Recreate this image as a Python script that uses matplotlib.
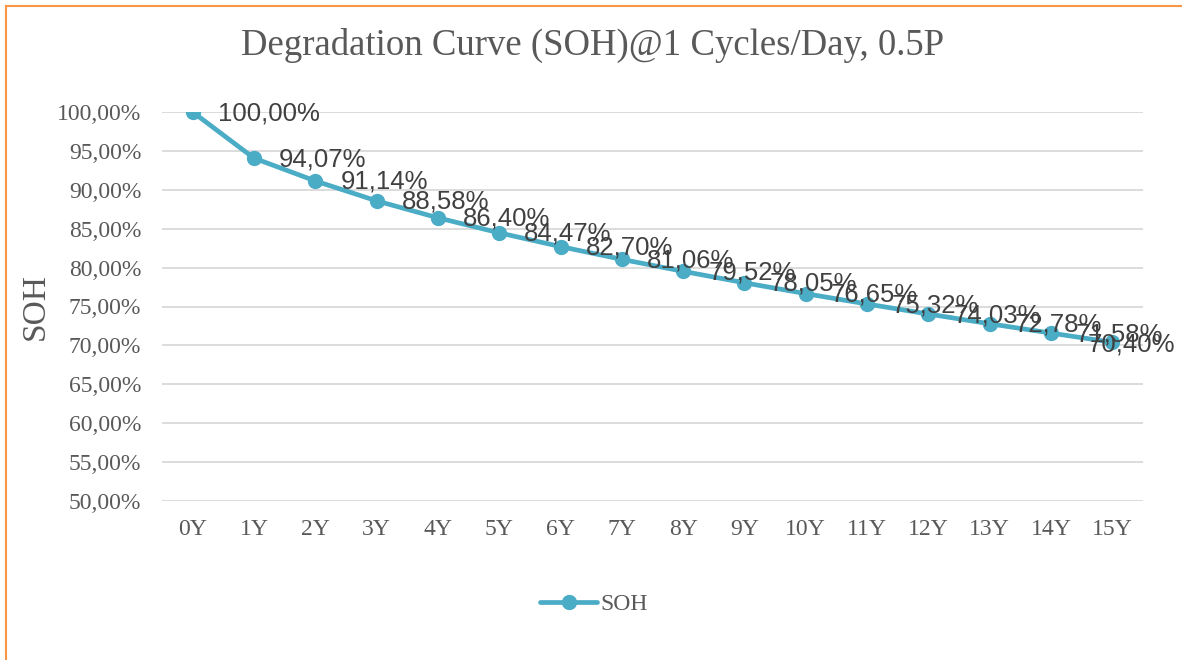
import numpy as np
import matplotlib.pyplot as plt
from matplotlib.lines import Line2D

years = [f"{i}Y" for i in range(16)]
soh = [100.00, 94.07, 91.14, 88.58, 86.40, 84.47, 82.70, 81.06,
       79.52, 78.05, 76.65, 75.32, 74.03, 72.78, 71.58, 70.40]
yticks = np.arange(50, 101, 5)

line_color = '#4BACC6'
text_color = '#595959'
serif = ['Liberation Serif', 'DejaVu Serif']
sans = ['Liberation Sans', 'DejaVu Sans']

fig = plt.figure(figsize=(11.82, 6.6), dpi=100)
ax = fig.add_axes([162 / 1182, 1 - 501 / 660, (1143 - 162) / 1182, (501 - 112) / 660])

x = np.arange(len(years))
ax.plot(x, soh, color=line_color, lw=3.4, marker='o', ms=10, zorder=3,
        solid_capstyle='round', label='SOH')

for i, (xi, v) in enumerate(zip(x, soh)):
    # last label is pulled back inside the chart, as Excel does
    last = i == len(soh) - 1
    ax.annotate(f"{v:.2f}%".replace('.', ','), (xi, v),
                xytext=(63, -2) if last else (25, -1),
                textcoords='offset pixels', ha='right' if last else 'left',
                va='center', fontsize=18.5, color='#404040', family=sans,
                zorder=4, annotation_clip=False)

ax.set_xlim(-0.5, len(years) - 0.5)
ax.set_ylim(50, 100)
ax.set_xticks(x)
ax.set_xticklabels(years, family=serif, fontsize=17, color=text_color)
ax.set_yticks(yticks)
ax.set_yticklabels([f"{t:.2f}%".replace('.', ',') for t in yticks],
                   family=serif, fontsize=17, color=text_color)
ax.tick_params(length=0)
ax.tick_params(axis='y', pad=15)
ax.tick_params(axis='x', pad=13)
ax.grid(axis='y', color='#D9D9D9', lw=1.3)
ax.set_axisbelow(True)
for s in ax.spines.values():
    s.set_visible(False)

fig.text(593 / 1182, 1 - 45 / 660, "Degradation Curve (SOH)@1 Cycles/Day, 0.5P",
         ha='center', va='center', family=serif, fontsize=26.5, color=text_color)
fig.text(35 / 1182, 1 - 307 / 660, "SOH", rotation=90, ha='center', va='center',
         family=serif, fontsize=24, color=text_color)

handle = Line2D([], [], color=line_color, lw=3.4, marker='o', ms=10,
                solid_capstyle='round')
fig.legend([handle], ['SOH'], loc='center', bbox_to_anchor=(594 / 1182, 1 - 604 / 660),
           frameon=False, prop={'family': serif, 'size': 17}, labelcolor=text_color,
           handlelength=2.4, handletextpad=0.15)

# orange frame (top and left edges visible)
fig.add_artist(Line2D([6 / 1182, 1], [1 - 6 / 660, 1 - 6 / 660], color='#F79646', lw=1.5))
fig.add_artist(Line2D([6 / 1182, 6 / 1182], [0, 1 - 6 / 660], color='#F79646', lw=1.5))

fig.savefig('out.png', dpi=100)
